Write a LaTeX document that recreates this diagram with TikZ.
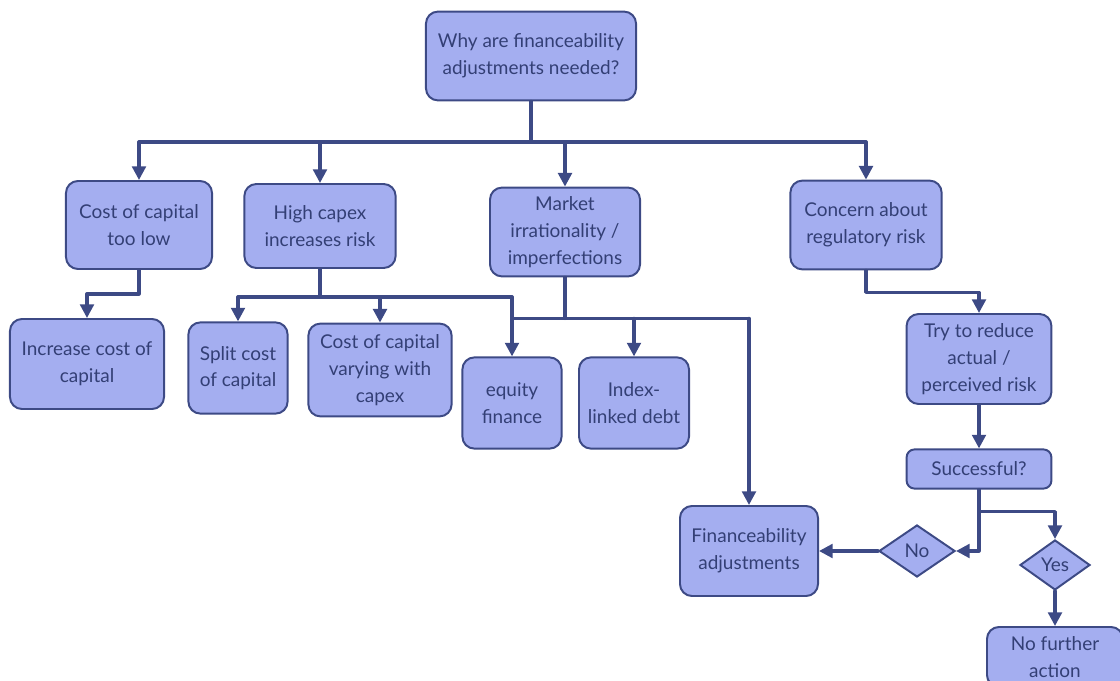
\documentclass[tikz,border=0pt]{standalone}
\usepackage{fontspec}
\setmainfont{Lato}
\usepackage{xcolor}
\usepackage{tikz}
\usetikzlibrary{arrows.meta,shapes.geometric}
\definecolor{fillc}{HTML}{A4AEF0}
\definecolor{edge}{HTML}{3D4A85}
\definecolor{ink}{HTML}{333F75}
\tikzset{
  box/.style={draw=edge, fill=fillc, line width=1.4pt, rounded corners=0.3cm,
    align=center, text=ink, inner sep=2pt, font=\fontsize{13.5}{19}\selectfont},
  dia/.style={diamond, draw=edge, fill=fillc, line width=1.4pt, inner sep=0pt,
    text=ink, font=\fontsize{13.5}{19}\selectfont},
  link/.style={draw=edge, line width=2.3pt, line cap=round, line join=round},
  arr/.style={link, -{Triangle[length=0.34cm,width=0.34cm]}},
}
\begin{document}
\begin{tikzpicture}[x=0.025cm,y=-0.025cm]
  \clip (0,0) rectangle (1120,681);
  % boxes
  \node[box, minimum width=5.25cm, minimum height=2.22cm] (why) at (531,56) {Why are financeability\\adjustments needed?};
  \node[box, minimum width=3.65cm, minimum height=2.2cm] (low) at (139,225) {Cost of capital\\too low};
  \node[box, minimum width=3.78cm, minimum height=2.1cm] (capex) at (320,226) {High capex\\increases risk};
  \node[box, minimum width=3.75cm, minimum height=2.22cm] (market) at (565,232) {Market\\irrationality /\\imperfections};
  \node[box, minimum width=3.78cm, minimum height=2.22cm] (concern) at (866,225) {Concern about\\regulatory risk};
  \node[box, minimum width=3.85cm, minimum height=2.25cm] (incr) at (87,364) {Increase cost of\\capital};
  \node[box, minimum width=2.48cm, minimum height=2.28cm] (split) at (238,368) {Split cost\\of capital};
  \node[box, minimum width=3.58cm, minimum height=2.32cm] (vary) at (380,370) {Cost of capital\\varying with\\capex};
  \node[box, minimum width=2.48cm, minimum height=2.28cm] (equity) at (512,403) {equity\\finance};
  \node[box, minimum width=2.75cm, minimum height=2.28cm] (index) at (634,403) {Index-\\linked debt};
  \node[box, minimum width=3.62cm, minimum height=2.25cm] (reduce) at (979,359) {Try to reduce\\actual /\\perceived risk};
  \node[box, minimum width=3.62cm, minimum height=0.98cm, rounded corners=0.2cm] (succ) at (979,469) {Successful?};
  \node[box, minimum width=3.45cm, minimum height=2.25cm] (fin) at (749,551) {Financeability\\adjustments};
  \node[dia, minimum width=1.9cm, minimum height=1.3cm] (no) at (917,551) {No};
  \node[dia, minimum width=1.75cm, minimum height=1.25cm] (yes) at (1055,565) {Yes};
  \node[box, minimum width=3.4cm, minimum height=1.5cm] (nofur) at (1055,657) {No further\\action};
  % top level
  \coordinate (j0) at (531,142);
  \draw[link] (why.south) -- (j0);
  \draw[link] (j0 -| low.north) -- (j0 -| concern.north);
  \foreach \n in {low,capex,market,concern}
    \draw[arr] (j0 -| \n.north) -- (\n.north);
  % second level
  \draw[arr] (low.south) -- ++(0,24) -| (incr.north);
  \draw[link] (capex.south) -- ++(0,28) coordinate (j2);
  \draw[link] (j2 -| split.north) -- (j2 -| equity.north);
  \draw[arr] (j2 -| split.north) -- (split.north);
  \draw[arr] (j2 -| vary.north) -- (vary.north);
  \draw[arr] (j2 -| equity.north) -- (equity.north);
  \draw[link] (market.south) -- ++(0,41) coordinate (j3);
  \draw[link] (j3 -| equity.north) -- (j3 -| fin.north);
  \draw[arr] (j3 -| index.north) -- (index.north);
  \draw[arr] (j3 -| fin.north) -- (fin.north);
  % regulatory branch
  \draw[arr] (concern.south) -- ++(0,22) -| (reduce.north);
  \draw[arr] (reduce.south) -- (succ.north);
  \draw[link] (succ.south) -- ++(0,22) coordinate (j4);
  \draw[arr] (j4) -| (yes.north);
  \draw[arr] (j4) |- (no.east);
  \draw[arr] (no.west) -- (fin.east);
  \draw[arr] (yes.south) -- (nofur.north);
\end{tikzpicture}
\end{document}
